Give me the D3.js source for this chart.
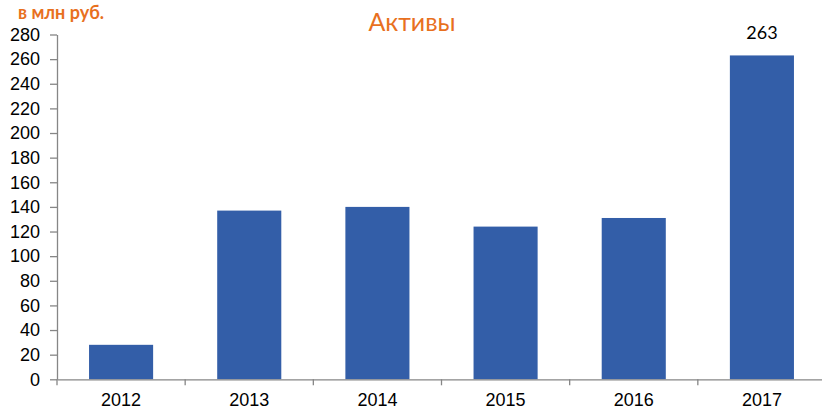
<!DOCTYPE html>
<html lang="ru">
<head>
    <meta charset="UTF-8">
    <title>Активы</title>
    <style>
        body { margin: 0; background: #fff; }
        svg { display: block; font-family: Lato, "Open Sans", sans-serif; }
    </style>
</head>
<body>
<script src="https://d3js.org/d3.v7.min.js"></script>
<script>
    // data
    const years = ["2012", "2013", "2014", "2015", "2016", "2017"];
    const assets = [28, 137, 140, 124, 131, 263];
    const yTicks = d3.range(0, 281, 20);
    const labelled = ["2017"];

    // Set Dimensions
    const width = 822;
    const height = 412;
    const xLeft = 57;
    const xRight = 826;
    const yTop = 34.5;
    const yBottom = 379.3;

    const svg = d3.select("body")
        .append("svg")
        .attr("width", width)
        .attr("height", height);

    const x = d3.scaleBand()
        .domain(years)
        .range([xLeft, xRight])
        .paddingInner(0.5)
        .paddingOuter(0.25);

    const y = d3.scaleLinear()
        .domain([0, 280])
        .range([yBottom, yTop]);

    // bars
    svg.selectAll("rect.bar")
        .data(years)
        .enter()
        .append("rect")
        .attr("class", "bar")
        .attr("x", d => x(d))
        .attr("y", (d, i) => y(assets[i]))
        .attr("width", x.bandwidth())
        .attr("height", (d, i) => y(0) - y(assets[i]))
        .attr("fill", "#335EA8");

    // Y axis
    const yAxis = svg.append("g")
        .attr("transform", `translate(${xLeft},0)`)
        .call(d3.axisLeft(y).tickValues(yTicks).tickSize(7).tickPadding(10).tickSizeOuter(0));

    // X axis
    const xPos = d3.scaleLinear().domain([0, years.length]).range([xLeft, xRight]);
    const xAxis = svg.append("g")
        .attr("transform", `translate(0,${yBottom})`)
        .call(d3.axisBottom(x).tickSize(0).tickPadding(14).tickSizeOuter(0));
    // tick marks between categories
    xAxis.selectAll("line.sep")
        .data(d3.range(0, years.length + 1))
        .enter()
        .append("line")
        .attr("class", "sep")
        .attr("x1", d => xPos(d))
        .attr("x2", d => xPos(d))
        .attr("y1", 0)
        .attr("y2", 6);

    [yAxis, xAxis].forEach(g => {
        g.selectAll("path.domain").attr("stroke", "#868686").attr("stroke-width", 1.3);
        g.selectAll("line").attr("stroke", "#868686").attr("stroke-width", 1.3);
        g.selectAll("text").attr("fill", "#000").style("font-size", "18px");
    });

    // value label
    svg.selectAll("text.val")
        .data(years.filter(d => labelled.includes(d)))
        .enter()
        .append("text")
        .attr("class", "val")
        .attr("x", d => x(d) + x.bandwidth() / 2)
        .attr("y", d => y(assets[years.indexOf(d)]) - 16)
        .attr("text-anchor", "middle")
        .style("font-size", "18px")
        .attr("fill", "#000")
        .text(d => assets[years.indexOf(d)]);

    // title
    svg.append("text")
        .attr("x", 412)
        .attr("y", 31)
        .attr("text-anchor", "middle")
        .style("font-size", "25px")
        .attr("fill", "#E8701E")
        .text("Активы");

    // units
    svg.append("text")
        .attr("x", 18)
        .attr("y", 19)
        .style("font-size", "18px")
        .style("font-weight", "bold")
        .attr("fill", "#E8701E")
        .text("в млн руб.");
</script>
</body>
</html>
